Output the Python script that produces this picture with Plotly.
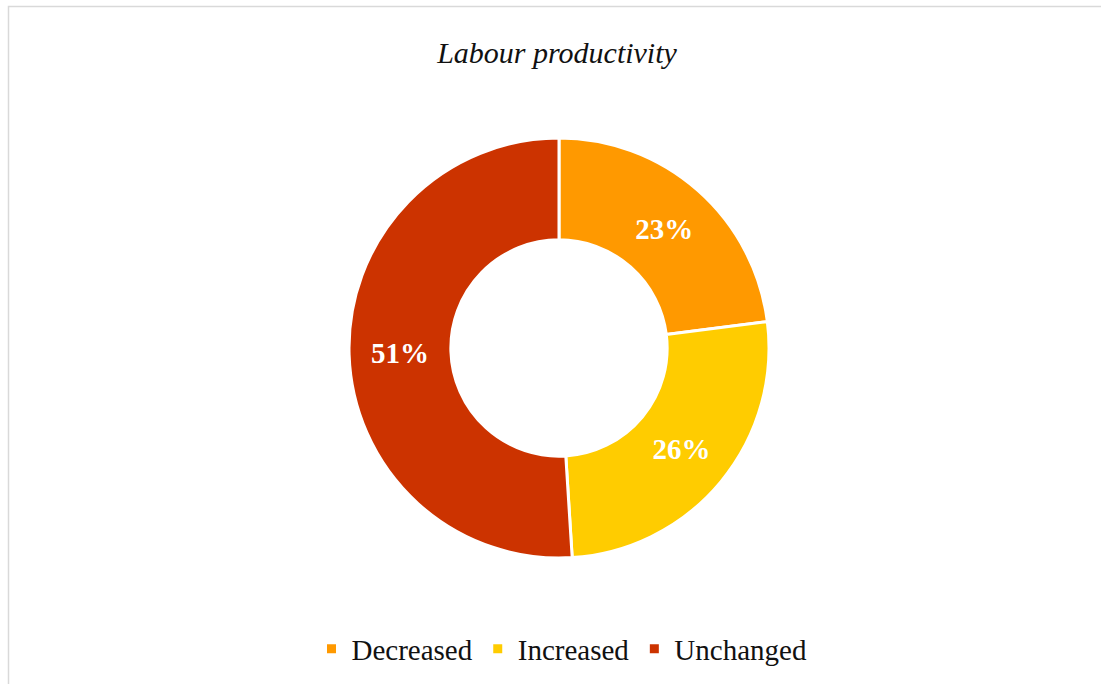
import plotly.graph_objects as go

# Survey shares for labour productivity change
categories = ["Decreased", "Increased", "Unchanged"]
shares = [23, 26, 51]
colors = ["#FF9900", "#FFCC00", "#CC3300"]
title_text = "Labour productivity"

W, H = 1101, 684
cx, cy, r = 559, 348, 210

fig = go.Figure(
    go.Pie(
        labels=categories,
        values=shares,
        hole=0.515,
        sort=False,
        direction="clockwise",
        rotation=0,
        marker=dict(colors=colors, line=dict(color="white", width=3)),
        texttemplate="%{value}%",
        textposition="inside",
        insidetextorientation="horizontal",
        textfont=dict(family="Liberation Serif", size=29, color="white", weight="bold"),
        domain=dict(
            x=[(cx - r) / W, (cx + r) / W],
            y=[(H - cy - r) / H, (H - cy + r) / H],
        ),
        hoverinfo="label+percent",
    )
)

fig.update_layout(
    width=W,
    height=H,
    margin=dict(l=0, r=0, t=0, b=0),
    paper_bgcolor="white",
    plot_bgcolor="white",
    font=dict(family="Liberation Serif", color="#111111"),
    title=dict(
        text=title_text,
        x=557 / W,
        xanchor="center",
        y=1 - 52 / H,
        yanchor="middle",
        font=dict(family="Liberation Serif", size=30, style="italic", color="#111111"),
    ),
    legend=dict(
        orientation="h",
        x=562 / W,
        xanchor="center",
        y=1 - 649 / H,
        yanchor="middle",
        font=dict(family="Liberation Serif", size=29, color="#111111"),
        itemclick=False,
        traceorder="normal",
    ),
    shapes=[
        dict(
            type="rect",
            xref="paper",
            yref="paper",
            x0=8.5 / W,
            x1=1.02,
            y0=-0.02,
            y1=1 - 6.5 / H,
            line=dict(color="#D9D9D9", width=1.5),
            fillcolor="rgba(0,0,0,0)",
            layer="below",
        )
    ],
)

fig.write_html("out.html")
